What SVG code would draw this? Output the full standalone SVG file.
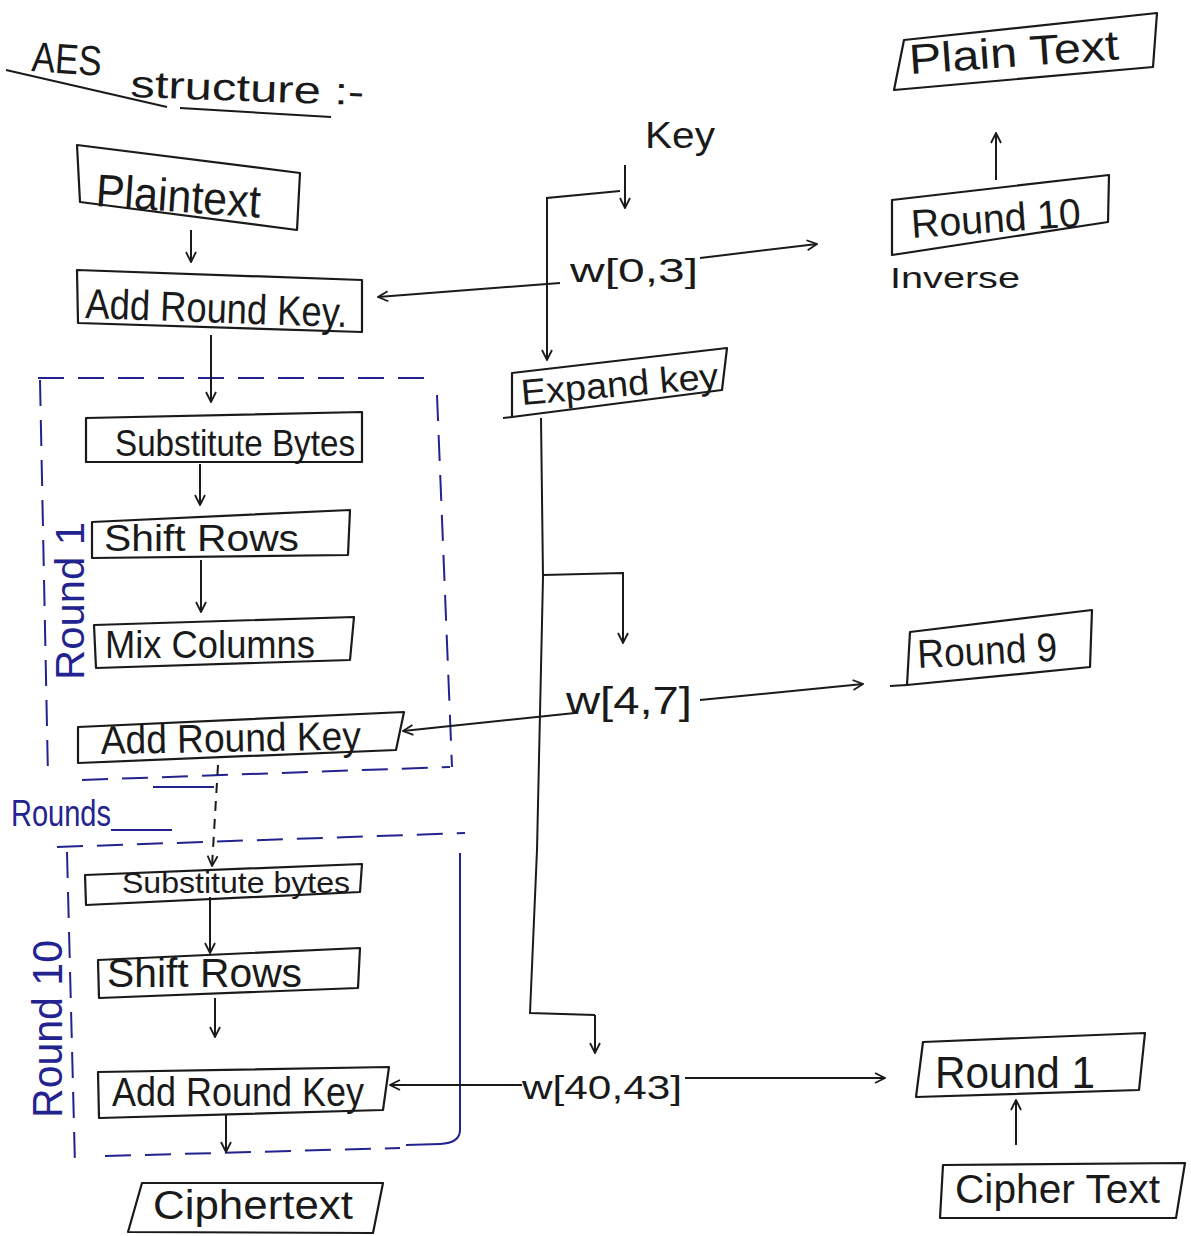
<svg xmlns="http://www.w3.org/2000/svg" width="1191" height="1236" viewBox="0 0 1191 1236">
<defs>
<marker id="ah" viewBox="0 0 12 12" refX="11" refY="6" markerWidth="12" markerHeight="12" markerUnits="userSpaceOnUse" orient="auto">
<path d="M1,1 L11,6 L1,11" fill="none" stroke="#1a1a1a" stroke-width="1.8"/>
</marker>
</defs>
<style>
.box{fill:none;stroke:#1a1a1a;stroke-width:2.2;stroke-linejoin:round}
.ln{fill:none;stroke:#1a1a1a;stroke-width:2}
.arr{fill:none;stroke:#1a1a1a;stroke-width:2;marker-end:url(#ah)}
.bd{fill:none;stroke:#23238f;stroke-width:2;stroke-dasharray:26 14}
.bs{fill:none;stroke:#23238f;stroke-width:2}
.t{font-family:"Liberation Sans",Arial,sans-serif;fill:#1a1a1a}
.tb{font-family:"Liberation Sans",Arial,sans-serif;fill:#23238f}
</style>
<rect width="1191" height="1236" fill="#ffffff"/>

<g id="title">
<text class="t" x="31" y="71" font-size="42" textLength="70" lengthAdjust="spacingAndGlyphs" transform="rotate(4 31 71)">AES</text>
<text class="t" x="130" y="97" font-size="38" textLength="234" lengthAdjust="spacingAndGlyphs" transform="rotate(2 130 97)">structure :-</text>
<path class="ln" d="M6,70 L167,107"/>
<path class="ln" d="M180,108 L331,117"/>
</g>

<g id="round1-frame">
<path class="bd" d="M38,378 L433,378"/>
<path class="bd" d="M40,380 L48,777"/>
<path class="bd" d="M437,395 L452,767"/>
<path class="bd" d="M82,780 L450,767"/>
<path class="bs" d="M153,787 L214,787"/>
<text class="tb" x="0" y="0" font-size="40" textLength="158" lengthAdjust="spacingAndGlyphs" transform="translate(84 680) rotate(-90)">Round 1</text>
</g>

<g id="rounds-label">
<text class="tb" x="11" y="826" font-size="36" textLength="100" lengthAdjust="spacingAndGlyphs">Rounds</text>
<path class="bs" d="M111,830 L172,830"/>
</g>

<g id="round10-frame">
<path class="bd" d="M57,847 L465,833"/>
<path class="bd" d="M67,852 L75,1165"/>
<path class="bs" d="M460,853 L460,1130 Q460,1143 440,1144 L406,1145"/>
<path class="bd" d="M105,1156 L400,1148"/>
<text class="tb" x="0" y="0" font-size="42" textLength="178" lengthAdjust="spacingAndGlyphs" transform="translate(62 1118) rotate(-90)">Round 10</text>
</g>

<g id="plaintext">
<polygon class="box" points="77,145 300,173 297,230 80,202"/>
<text class="t" x="95" y="206" font-size="46" textLength="165" lengthAdjust="spacingAndGlyphs" transform="rotate(4 95 206)">Plaintext</text>
</g>

<g id="add-round-key-0">
<polygon class="box" points="77,270 362,280 362,332 78,323"/>
<text class="t" x="85" y="318" font-size="42" textLength="262" lengthAdjust="spacingAndGlyphs" transform="rotate(2 85 318)">Add Round Key.</text>
</g>

<g id="substitute-bytes-1">
<polygon class="box" points="86,418 362,412 362,462 86,462"/>
<text class="t" x="115" y="456" font-size="36" textLength="240" lengthAdjust="spacingAndGlyphs">Substitute Bytes</text>
</g>

<g id="shift-rows-1">
<polygon class="box" points="92,522 350,510 348,555 92,558"/>
<text class="t" x="104" y="551" font-size="36" textLength="195" lengthAdjust="spacingAndGlyphs">Shift Rows</text>
</g>

<g id="mix-columns-1">
<polygon class="box" points="94,625 354,617 350,660 96,668"/>
<text class="t" x="105" y="658" font-size="38" textLength="210" lengthAdjust="spacingAndGlyphs">Mix Columns</text>
</g>

<g id="add-round-key-1">
<polygon class="box" points="78,727 404,712 396,750 78,763"/>
<text class="t" x="101" y="754" font-size="40" textLength="260" lengthAdjust="spacingAndGlyphs" transform="rotate(-1 101 754)">Add Round Key</text>
</g>

<g id="substitute-bytes-10">
<polygon class="box" points="85,875 362,864 360,892 86,905"/>
<text class="t" x="122" y="893" font-size="30" textLength="228" lengthAdjust="spacingAndGlyphs">Substitute bytes</text>
</g>

<g id="shift-rows-10">
<polygon class="box" points="98,960 360,948 358,988 99,998"/>
<text class="t" x="107" y="987" font-size="40" textLength="195" lengthAdjust="spacingAndGlyphs">Shift Rows</text>
</g>

<g id="add-round-key-10">
<polygon class="box" points="98,1072 389,1067 383,1110 99,1118"/>
<text class="t" x="112" y="1106" font-size="40" textLength="252" lengthAdjust="spacingAndGlyphs">Add Round Key</text>
</g>

<g id="ciphertext">
<polygon class="box" points="142,1183 383,1183 373,1233 128,1232"/>
<text class="t" x="153" y="1219" font-size="40" textLength="200" lengthAdjust="spacingAndGlyphs">Ciphertext</text>
</g>

<g id="key">
<text class="t" x="645" y="148" font-size="36" textLength="70" lengthAdjust="spacingAndGlyphs">Key</text>
</g>

<g id="w0-3">
<text class="t" x="570" y="282" font-size="34" textLength="128" lengthAdjust="spacingAndGlyphs">w[0,3]</text>
</g>

<g id="expand-key">
<polygon class="box" points="512,373 727,348 722,390 512,417"/>
<path class="ln" d="M503,418 L512,417"/>
<text class="t" x="522" y="405" font-size="36" textLength="198" lengthAdjust="spacingAndGlyphs" transform="rotate(-5 522 405)">Expand key</text>
</g>

<g id="w4-7">
<text class="t" x="566" y="714" font-size="38" textLength="126" lengthAdjust="spacingAndGlyphs">w[4,7]</text>
</g>

<g id="w40-43">
<text class="t" x="522" y="1099" font-size="34" textLength="160" lengthAdjust="spacingAndGlyphs">w[40,43]</text>
</g>

<g id="plain-text-out">
<polygon class="box" points="904,40 1157,13 1153,67 894,90"/>
<text class="t" x="910" y="74" font-size="42" textLength="210" lengthAdjust="spacingAndGlyphs" transform="rotate(-4 910 74)">Plain Text</text>
</g>

<g id="round10-inv">
<polygon class="box" points="892,200 1109,175 1108,222 892,255"/>
<text class="t" x="912" y="238" font-size="40" textLength="170" lengthAdjust="spacingAndGlyphs" transform="rotate(-4 912 238)">Round 10</text>
</g>

<g id="inverse-label">
<text class="t" x="890" y="288" font-size="30" textLength="130" lengthAdjust="spacingAndGlyphs">Inverse</text>
</g>

<g id="round9-inv">
<polygon class="box" points="910,632 1092,610 1090,667 907,685"/>
<path class="ln" d="M890,686 L907,685"/>
<text class="t" x="918" y="668" font-size="40" textLength="140" lengthAdjust="spacingAndGlyphs" transform="rotate(-3 918 668)">Round 9</text>
</g>

<g id="round1-inv">
<polygon class="box" points="923,1042 1145,1033 1139,1090 916,1097"/>
<text class="t" x="935" y="1088" font-size="44" textLength="160" lengthAdjust="spacingAndGlyphs">Round 1</text>
</g>

<g id="cipher-text-in">
<polygon class="box" points="943,1165 1185,1163 1176,1218 940,1218"/>
<text class="t" x="955" y="1203" font-size="40" textLength="205" lengthAdjust="spacingAndGlyphs">Cipher Text</text>
</g>

<g id="connectors">
<path class="arr" d="M191,230 L191,262"/>
<path class="arr" d="M211,335 L211,402"/>
<path class="arr" d="M200,464 L200,505"/>
<path class="arr" d="M201,560 L201,612"/>
<path class="arr" d="M218,765 L212,866" stroke-dasharray="10 8"/>
<path class="arr" d="M210,897 L210,953"/>
<path class="arr" d="M215,998 L215,1037"/>
<path class="arr" d="M226,1114 L226,1152"/>
<path class="arr" d="M625,165 L625,208"/>
<path class="arr" d="M620,191 L547,198 L547,360"/>
<path class="arr" d="M560,283 L378,297"/>
<path class="arr" d="M700,258 L817,244"/>
<path class="ln" d="M541,418 L543,577 L537,850 L530,1013 L595,1015"/>
<path class="arr" d="M595,1015 L595,1053"/>
<path class="arr" d="M543,575 L623,573 L623,643"/>
<path class="arr" d="M575,713 L403,731"/>
<path class="arr" d="M700,700 L863,684"/>
<path class="arr" d="M522,1085 L390,1085"/>
<path class="arr" d="M685,1078 L885,1078"/>
<path class="arr" d="M996,180 L996,133"/>
<path class="arr" d="M1016,1145 L1016,1100"/>
</g>
</svg>
